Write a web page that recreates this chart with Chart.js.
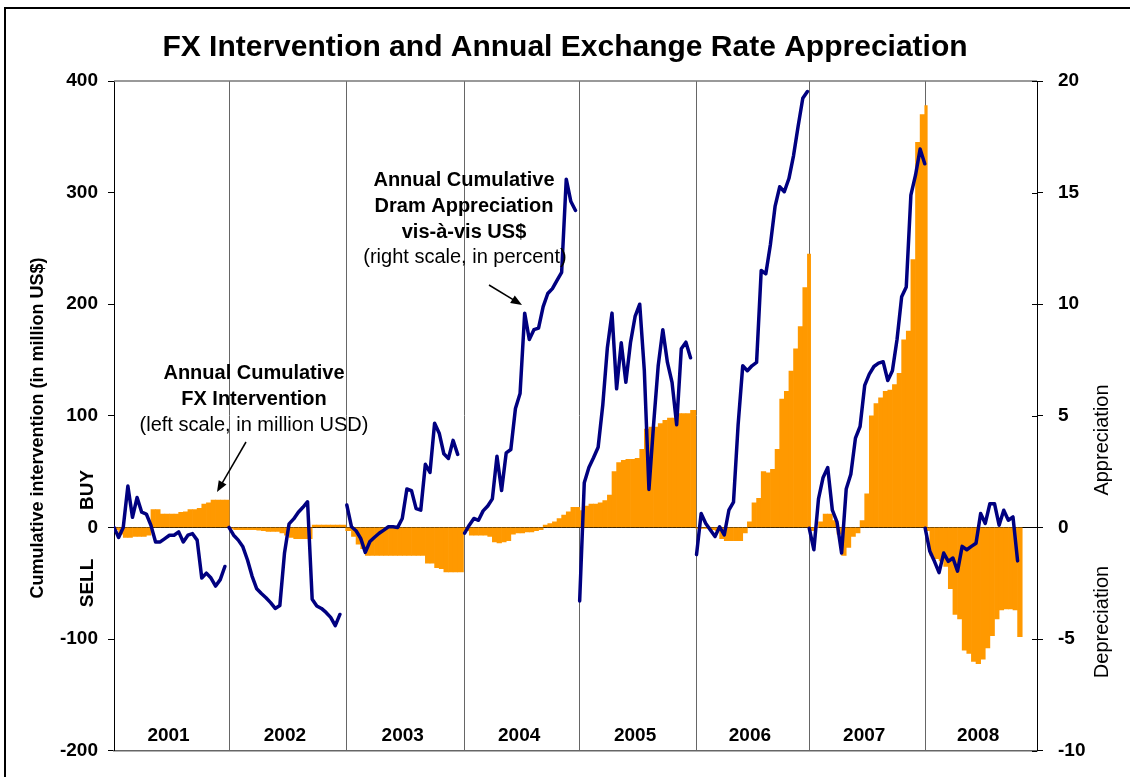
<!DOCTYPE html>
<html lang="en">
<head>
    <meta charset="UTF-8">
    <title>FX Intervention and Annual Exchange Rate Appreciation</title>
    <script src="https://cdn.jsdelivr.net/npm/chart.js"></script>
    <style>
        body {
            margin: 0;
            background: #fff;
        }
        .container {
            width: 1130px;
            height: 777px;
            position: relative;
        }
    </style>
</head>
<body>
    <div class="container">
        <canvas id="fxChart"></canvas>
    </div>

    <script>
        const years = ["2001", "2002", "2003", "2004", "2005", "2006", "2007", "2008"];
        // observations per year on the x axis (2008 slot is full year, data stops in autumn)
        const yearLength = [249, 255, 255, 249, 253, 244, 251, 242];
        const sampleStep = 10; // observations between two readings

        // annual cumulative FX intervention, million US$ (left scale)
        const fx2001 = [-2, -6, -9, -9, -8, -8, -8, -7, 16, 16, 12, 12, 12, 12, 13.5, 14, 16, 16, 17, 21, 22, 24.5, 24.5, 24.5, 24.5];
        const fx2002 = [-1, -2, -2, -2, -2, -2, -2.5, -3, -3.5, -3.5, -3.5, -5, -7, -9, -10, -10, -10, -10, 2, 2, 2, 2, 2, 2, 2];
        const fx2003 = [-3, -8, -15, -19, -25, -25, -25, -25, -25, -25, -25, -25, -25, -25, -25, -25, -25, -32, -32, -36, -37, -40, -40, -40, -40];
        const fx2004 = [-3, -7, -7, -7, -7, -8, -13, -14, -13, -12, -6, -5, -5, -4, -4, -3, -2, 2, 3.5, 5, 8, 11, 14, 18, 18];
        const fx2005 = [15, 19, 21, 21, 22, 24, 29, 50, 58, 60, 61, 61, 62, 70, 88, 90, 90, 93, 96, 98, 98, 102, 102, 102, 105];
        const fx2006 = [-1, -1, -1, -2, -3, -10, -12, -12, -12, -12, -5, 5, 22, 26, 50, 49, 52, 70, 115, 122, 140, 160, 180, 215, 245];
        const fx2007 = [-3, 0, 5, 12, 12, 6, -6, -25, -18, -8, -5, 6, 30, 100, 111, 116, 122, 123, 128, 138, 168, 176, 240, 345, 370, 378];
        const fx2008 = [-3, -25, -28, -30, -35, -55, -78, -82, -110, -113, -120, -122, -118, -108, -97, -82, -74, -73, -73, -74, -98];

        // annual cumulative dram appreciation vs US$, percent (right scale)
        const appr2001 = [0, -0.45, 0, 1.85, 0.45, 1.34, 0.68, 0.6, 0.09, -0.65, -0.65, -0.5, -0.35, -0.35, -0.2, -0.65, -0.35, -0.28, -0.57, -2.27, -2.05, -2.27, -2.63, -2.34, -1.75];
        const appr2002 = [0, -0.35, -0.57, -0.87, -1.46, -2.19, -2.75, -2.96, -3.15, -3.37, -3.63, -3.5, -1.16, 0.16, 0.38, 0.68, 0.9, 1.15, -3.22, -3.52, -3.63, -3.81, -4.03, -4.4, -3.9];
        const appr2003 = [1.0, 0.03, -0.15, -0.49, -1.12, -0.63, -0.44, -0.26, -0.12, 0.03, 0.03, 0, 0.4, 1.72, 1.65, 0.84, 0.77, 2.83, 2.46, 4.67, 4.22, 3.3, 3.09, 3.9, 3.27];
        const appr2004 = [-0.26, 0.1, 0.4, 0.32, 0.74, 0.96, 1.28, 3.19, 1.65, 3.34, 3.49, 5.33, 6.0, 9.6, 8.42, 8.86, 8.93, 9.89, 10.48, 10.7, 11.07, 11.43, 15.6, 14.6, 14.2];
        const appr2005 = [-3.3, 2.0, 2.68, 3.12, 3.59, 5.47, 8.05, 9.6, 6.21, 8.27, 6.5, 8.27, 9.45, 10.0, 7.02, 1.7, 4.6, 7.24, 8.86, 7.39, 6.5, 4.6, 8.0, 8.3, 7.6];
        const appr2006 = [-1.22, 0.62, 0.18, -0.12, -0.41, 0.03, -0.34, 0.77, 1.13, 4.59, 7.24, 7.02, 7.24, 7.39, 11.51, 11.36, 12.69, 14.38, 15.26, 15.04, 15.63, 16.66, 17.98, 19.23, 19.53];
        const appr2007 = [-0.04, -1.0, 1.28, 2.24, 2.68, 0.77, 0.25, -1.15, 1.72, 2.38, 4.0, 4.52, 6.36, 6.87, 7.21, 7.36, 7.42, 6.58, 7.02, 8.42, 10.33, 10.77, 14.89, 15.78, 16.95, 16.29];
        const appr2008 = [-0.04, -1.07, -1.52, -2.03, -1.15, -1.52, -1.37, -1.96, -0.85, -1.0, -0.85, -0.71, 0.62, 0.18, 1.06, 1.06, 0.1, 0.77, 0.32, 0.47, -1.5];

        const fxByYear = [fx2001, fx2002, fx2003, fx2004, fx2005, fx2006, fx2007, fx2008];
        const apprByYear = [appr2001, appr2002, appr2003, appr2004, appr2005, appr2006, appr2007, appr2008];

        const yearStart = [];
        let total = 0;
        yearLength.forEach(n => { yearStart.push(total); total += n; });

        const barPoints = [];
        const linePoints = [];
        years.forEach((y, k) => {
            fxByYear[k].forEach((v, i) => barPoints.push({ x: yearStart[k] + i * sampleStep + sampleStep / 2, y: v }));
            apprByYear[k].forEach((v, i) => linePoints.push({ x: yearStart[k] + i * sampleStep, y: v }));
            // the line restarts every January
            linePoints.push({ x: yearStart[k] + yearLength[k] - 0.5, y: null });
        });

        const FONT = "'Liberation Sans', Arial, sans-serif";
        Chart.defaults.font.family = FONT;
        Chart.defaults.color = "#000";

        function drawArrow(c, x1, y1, x2, y2) {
            const ang = Math.atan2(y2 - y1, x2 - x1);
            c.beginPath();
            c.moveTo(x1, y1);
            c.lineTo(x2 - 8 * Math.cos(ang), y2 - 8 * Math.sin(ang));
            c.stroke();
            c.beginPath();
            c.moveTo(x2, y2);
            c.lineTo(x2 - 12 * Math.cos(ang - 0.38), y2 - 12 * Math.sin(ang - 0.38));
            c.lineTo(x2 - 12 * Math.cos(ang + 0.38), y2 - 12 * Math.sin(ang + 0.38));
            c.closePath();
            c.fill();
        }

        function vText(c, text, x, y, font) {
            c.save();
            c.translate(x, y);
            c.rotate(-Math.PI / 2);
            c.font = font;
            c.fillText(text, 0, 0);
            c.restore();
        }

        const decorations = {
            id: "decorations",
            beforeDraw(chart) {
                const c = chart.ctx;
                c.save();
                c.fillStyle = "#fff";
                c.fillRect(0, 0, chart.width, chart.height);
                c.strokeStyle = "#000";
                c.lineWidth = 2;
                c.strokeRect(5, 8, chart.width + 20, chart.height + 20);
                c.restore();
            },
            afterDraw(chart) {
                const c = chart.ctx;
                const a = chart.chartArea;
                const xs = chart.scales.x;
                const yr = chart.scales.yRight;
                c.save();

                // top edge of the plot frame
                c.strokeStyle = "#777";
                c.lineWidth = 1.5;
                c.beginPath();
                c.moveTo(a.left, a.top);
                c.lineTo(a.right, a.top);
                c.stroke();

                // right axis ticks also reach a little into the plot
                c.strokeStyle = "#000";
                c.lineWidth = 1;
                yr.ticks.forEach(t => {
                    const py = Math.round(yr.getPixelForValue(t.value)) + 0.5;
                    c.beginPath();
                    c.moveTo(a.right - 5, py);
                    c.lineTo(a.right, py);
                    c.stroke();
                });

                c.fillStyle = "#000";
                c.textAlign = "center";
                c.textBaseline = "middle";

                // year names inside each slot
                c.font = "bold 19px " + FONT;
                years.forEach((y, k) => {
                    c.fillText(y, xs.getPixelForValue(yearStart[k] + yearLength[k] / 2) - 3, a.bottom - 15);
                });

                // axis captions
                vText(c, "Cumulative intervention (in million US$)", 38, 428, "bold 18px " + FONT);
                vText(c, "BUY", 88, 490, "bold 19px " + FONT);
                vText(c, "SELL", 88, 583, "bold 19px " + FONT);
                vText(c, "Appreciation", 1102, 440, "20px " + FONT);
                vText(c, "Depreciation", 1102, 622, "20px " + FONT);

                // notes
                c.font = "bold 20px " + FONT;
                c.fillText("Annual Cumulative", 254, 373);
                c.fillText("FX Intervention", 254, 399);
                c.font = "20px " + FONT;
                c.fillText("(left scale, in million USD)", 254, 425);

                c.font = "bold 20px " + FONT;
                c.fillText("Annual Cumulative", 464, 180);
                c.fillText("Dram Appreciation", 464, 206);
                c.fillText("vis-\u00e0-vis US$", 464, 232);
                c.font = "20px " + FONT;
                c.fillText("(right scale, in percent)", 465, 257);

                c.lineWidth = 1.5;
                drawArrow(c, 246, 442, 217, 492);
                drawArrow(c, 489, 285, 522, 305);

                c.restore();
            }
        };

        const ctx = document.getElementById("fxChart").getContext("2d");
        new Chart(ctx, {
            type: "bar",
            data: {
                datasets: [{
                    type: "line",
                    label: "Annual Cumulative Dram Appreciation vis-à-vis US$",
                    data: linePoints,
                    yAxisID: "yRight",
                    borderColor: "#000080",
                    borderWidth: 3.5,
                    borderJoinStyle: "round",
                    borderCapStyle: "round",
                    pointRadius: 0,
                    tension: 0,
                    spanGaps: false,
                    order: 0
                }, {
                    type: "bar",
                    label: "Annual Cumulative FX Intervention",
                    data: barPoints,
                    yAxisID: "yLeft",
                    backgroundColor: "#FF9900",
                    borderWidth: 0,
                    barThickness: "flex",
                    barPercentage: 1,
                    categoryPercentage: 1,
                    order: 1
                }]
            },
            options: {
                responsive: true,
                maintainAspectRatio: false,
                animation: false,
                layout: { padding: 0 },
                plugins: {
                    legend: { display: false },
                    tooltip: { enabled: false },
                    title: {
                        display: true,
                        text: "FX Intervention and Annual Exchange Rate Appreciation",
                        color: "#000",
                        font: { size: 30, weight: "bold" },
                        padding: { top: 30, bottom: 15 }
                    }
                },
                scales: {
                    x: {
                        type: "linear",
                        min: 0,
                        max: total,
                        offset: false,
                        afterBuildTicks: axis => { axis.ticks = yearStart.slice(1).map(v => ({ value: v })); },
                        afterFit: axis => { axis.height = 17; },
                        ticks: { display: false },
                        grid: { color: "#666", lineWidth: 1, drawTicks: false, offset: false },
                        border: { color: "#666", width: 1.5 }
                    },
                    yLeft: {
                        position: "left",
                        min: -200,
                        max: 400,
                        afterFit: axis => { axis.width = 114; },
                        ticks: { stepSize: 100, font: { size: 19, weight: "bold" }, padding: 10 },
                        grid: {
                            color: c => (c.tick && c.tick.value === 0 ? "#000" : "rgba(0,0,0,0)"),
                            tickColor: "#000",
                            tickLength: 6,
                            lineWidth: 1
                        },
                        border: { color: "#000", width: 1 }
                    },
                    yRight: {
                        position: "right",
                        min: -10,
                        max: 20,
                        afterFit: axis => { axis.width = 93; },
                        ticks: { stepSize: 5, font: { size: 19, weight: "bold" }, padding: 15 },
                        grid: { drawOnChartArea: false, tickColor: "#000", tickLength: 6 },
                        border: { color: "#000", width: 1 }
                    }
                }
            },
            plugins: [decorations]
        });
    </script>
</body>
</html>
